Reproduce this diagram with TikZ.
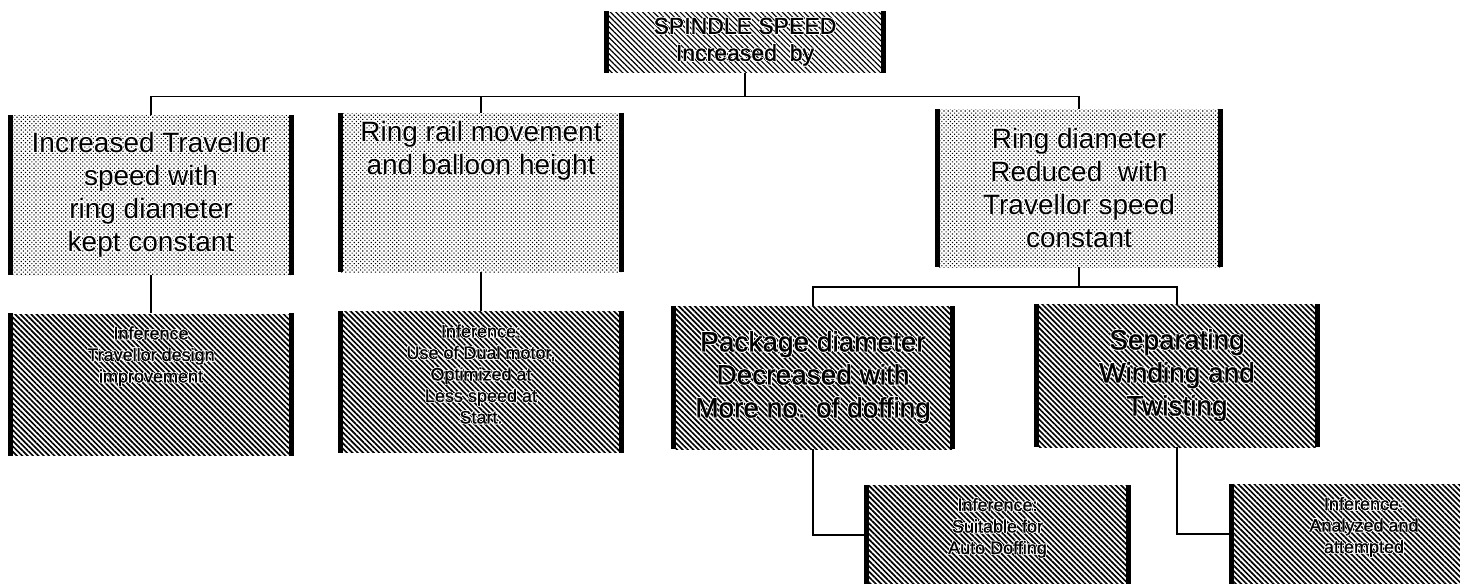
\documentclass[tikz,border=0pt]{standalone}
\usepackage{fontspec}
\setmainfont{Liberation Sans}
\newfontfamily\heavy{Liberation Sans}[FakeBold=1.2]
\usepackage[copies]{contour}
\contourlength{0.6pt}
\usetikzlibrary{patterns.meta,positioning}

\newcommand{\halo}[1]{\contour{white}{#1}}

\begin{document}
\begin{tikzpicture}[x=1pt,y=-1pt,
  box/.style={inner sep=0pt,align=center,minimum width=280pt},
  mainbox/.style={box,font=\heavy\fontsize{23}{27}\selectfont,minimum width=276pt,minimum height=60pt,
    pattern={Lines[angle=-45,distance=3.8pt,line width=1.2pt]}},
  factor/.style={box,font=\fontsize{28}{33}\selectfont,minimum height=160pt,
    pattern={Dots[distance=3pt,radius=.8pt,angle=45]}},
  remedy/.style={box,font=\heavy\fontsize{28}{33}\selectfont,minimum height=143pt,
    pattern={Lines[angle=-45,distance=3.8pt,line width=1.7pt]}},
  inference/.style={box,minimum height=141pt,
    pattern={Lines[angle=-45,distance=3.8pt,line width=1.7pt]}},
  toptext/.style={anchor=north,yshift=-8pt,inner sep=0pt,align=center,font=\fontsize{28}{33}\selectfont},
  inftext/.style={anchor=north,yshift=-13pt,inner sep=0pt,align=center,font=\heavy\fontsize{18}{21.5}\selectfont},
  bar/.style={line width=5pt},
  link/.style={line width=1.6pt}]
\useasboundingbox (0,0) rectangle (1460,584);
\clip (0,0) rectangle (1460,584);

\node[mainbox] (top) at (745,42) {\halo{SPINDLE SPEED}\\\halo{Increased~~by}};

% first level
\node[factor] (boxa) at (151,195) {\halo{Increased Travellor}\\\halo{speed with}\\\halo{ring diameter}\\\halo{kept constant}};
\node[factor,minimum height=159pt,
  label={[toptext]north:{\halo{Ring rail movement}\\\halo{and balloon height}}}] (boxb) at (481,192.5) {};
\node[factor,minimum width=282pt,minimum height=158pt] (boxc) at (1079,188)
  {\halo{Ring diameter}\\\halo{Reduced~ with}\\\halo{Travellor speed}\\\halo{constant}};

% second level
\node[inference,below=38pt of boxa,
  label={[inftext]north:{\halo{Inference}\\\halo{Travellor design}\\\halo{improvement}}}] (infa) {};
\node[inference,below=39pt of boxb,
  label={[inftext]north:{\halo{Inference:}\\\halo{Use of Dual motor,}\\\halo{Optimized at}\\\halo{Less speed at}\\\halo{Start.}}}] (infb) {};
\node[remedy,minimum width=278pt] (boxd) at (813,377.5)
  {\halo{Package diameter}\\\halo{Decreased with}\\\halo{More no. of doffing}};
\node[remedy] (boxe) at (1177,375.5) {\halo{Separating}\\\halo{Winding and}\\\halo{Twisting}};

% third level
\node[inference,minimum width=261pt,minimum height=100pt,
  label={[inftext]north:{\halo{Inference:}\\\halo{Suitable for}\\\halo{Auto Doffing}}}] (infd) at (997.5,535) {};
\node[inference,minimum width=264pt,minimum height=100pt,
  label={[inftext]north:{\halo{Inference:}\\\halo{Analyzed and}\\\halo{attempted}}}] (infe) at (1364,534) {};

\foreach \n in {top,boxa,boxb,boxc,boxd,boxe,infa,infb,infd,infe}
  \draw[bar] (\n.north west) -- (\n.south west) (\n.north east) -- (\n.south east);

\coordinate (bus) at ([yshift=-24pt]top.south);
\coordinate (split) at ([yshift=-20pt]boxc.south);
\draw[link] (top.south) -- (bus);
\draw[link] (boxa.north) |- (bus) -| (boxc.north);
\draw[link] (boxb.north) -- (boxb.north |- bus);
\draw[link] (boxa.south) -- (infa.north);
\draw[link] (boxb.south) -- (infb.north);
\draw[link] (boxc.south) -- (split);
\draw[link] (boxd.north) |- (split) -| (boxe.north);
\draw[link] (boxd.south) |- (infd.west);
\draw[link] (boxe.south) |- (infe.west);
\end{tikzpicture}
\end{document}
